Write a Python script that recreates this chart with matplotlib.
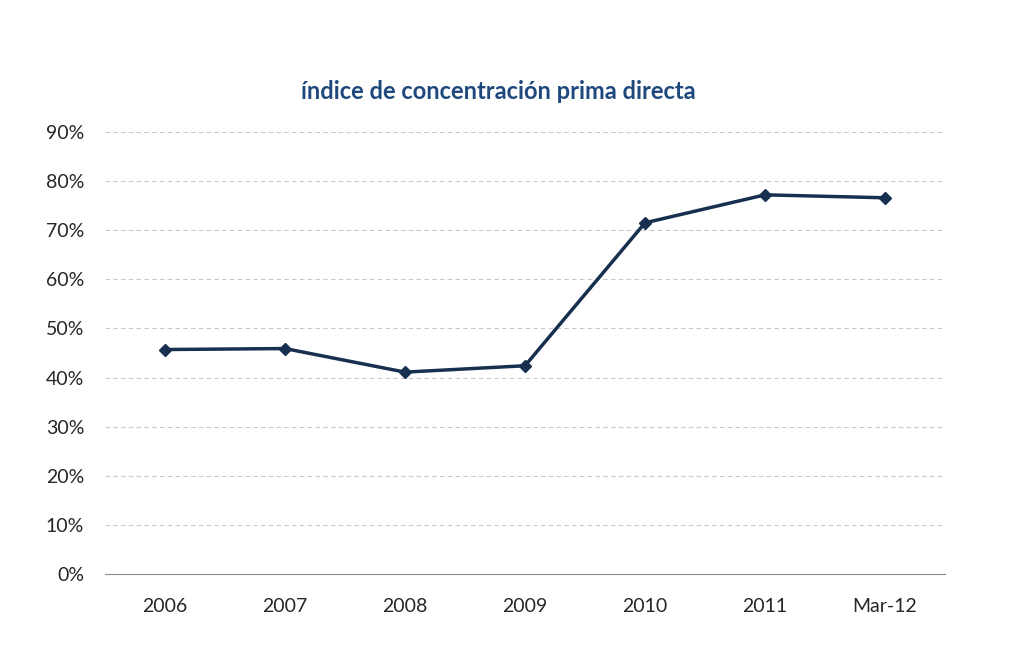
import matplotlib.pyplot as plt
from matplotlib.ticker import PercentFormatter

plt.rcParams['font.family'] = ['Lato', 'DejaVu Sans']

# datos
categorias = ['2006', '2007', '2008', '2009', '2010', '2011', 'Mar-12']
indice = [0.457, 0.459, 0.411, 0.424, 0.715, 0.772, 0.766]

fig = plt.figure(figsize=(10.21, 6.46), dpi=100)
ax = fig.add_axes([0.1028, 0.1115, 0.8228, 0.6842])

x = list(range(len(categorias)))
ax.plot(x, indice, color='#17304f', linewidth=2.5, marker='D', markersize=6,
        zorder=3)

ax.set_xlim(-0.5, len(categorias) - 0.5)
ax.set_ylim(0, 0.9)
ax.set_yticks([i / 10 for i in range(10)])
ax.yaxis.set_major_formatter(PercentFormatter(1.0, decimals=0))
ax.set_xticks(x)
ax.set_xticklabels(categorias)

# rejilla punteada
ax.grid(axis='y', linestyle=(0, (4, 3)), color='#c8c8c8', linewidth=0.8)
ax.set_axisbelow(True)
for s in ['top', 'right', 'left']:
    ax.spines[s].set_visible(False)
ax.spines['bottom'].set_color('#8c8c8c')
ax.tick_params(axis='both', length=0, labelsize=14, colors='#262626')
ax.tick_params(axis='y', pad=15)
ax.tick_params(axis='x', pad=17)

fig.text(0.488, 0.859, 'índice de concentración prima directa', ha='center',
         va='center', fontsize=17, fontweight='bold', color='#1f497d')

plt.savefig('out.png', dpi=100)
